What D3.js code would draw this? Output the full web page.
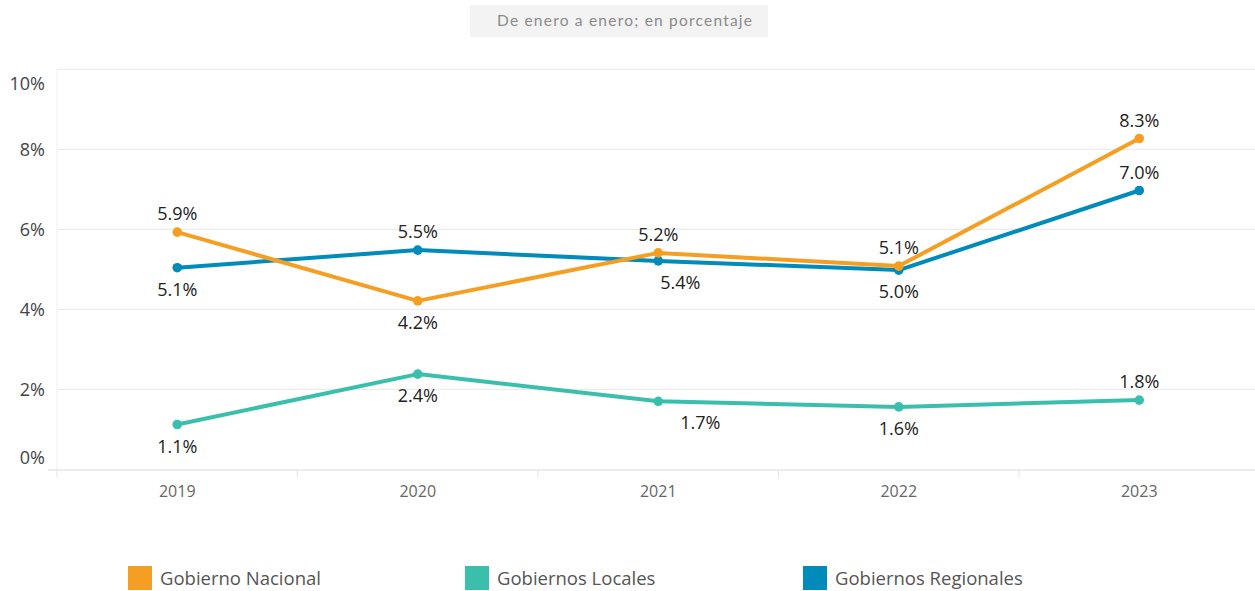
<!DOCTYPE html>
<html><head><meta charset="utf-8">
<script src="https://cdn.jsdelivr.net/npm/d3@7"></script>
<style>
html,body{margin:0;padding:0;background:#fff;}
svg{display:block;font-family:"Segoe UI","Open Sans","Noto Sans",sans-serif;}
</style></head>
<body><svg id="c" width="1255" height="591"></svg>
<script>
const years = ["2019","2020","2021","2022","2023"];
const nacional = [5.93, 4.21, 5.41, 5.08, 8.27];
const locales = [1.12, 2.38, 1.70, 1.56, 1.73];
const regionales = [5.04, 5.48, 5.21, 4.98, 6.97];
const nacionalLabels = ["5.9%","4.2%","5.4%","5.1%","8.3%"];
const localesLabels = ["1.1%","2.4%","1.7%","1.6%","1.8%"];
const regionalesLabels = ["5.1%","5.5%","5.2%","5.0%","7.0%"];
const yTicks = [0,2,4,6,8,10];
const seriesNames = ["Gobierno Nacional","Gobiernos Locales","Gobiernos Regionales"];
const title = "De enero a enero; en porcentaje";

const colors = ["#F59F22","#3BBFAD","#008BBA"];
// label placement: [dy sign, dx]
const place = [
  [[-1,0],[1,0],[1,22],[-1,0],[-1,0]],
  [[1,0],[1,0],[1,42],[1,0],[-1,0]],
  [[1,0],[-1,0],[-1,0],[1,0],[-1,0]]
];

const svg = d3.select("#c");
const x = d3.scalePoint().domain(years).range([57,1259.5]).padding(0.5);
const y = d3.scaleLinear().domain([0,10]).range([469.3,69.3]);
const bw = x.step();

// title box
svg.append("rect").attr("x",470).attr("y",5).attr("width",298).attr("height",32).attr("fill","#f3f3f3");
svg.append("text").attr("x",497).attr("y",26)
  .attr("font-family","Lato, 'Open Sans', sans-serif").attr("font-size",15.5)
  .attr("textLength",255).attr("lengthAdjust","spacing")
  .attr("fill","#8a8a8a").text(title);

// gridlines
svg.append("g").selectAll("line").data(yTicks.filter(d=>d>0)).join("line")
  .attr("x1",57).attr("x2",1255).attr("y1",d=>y(d)).attr("y2",d=>y(d))
  .attr("stroke","#ececec").attr("stroke-width",1.3);
svg.append("line").attr("x1",57).attr("x2",57).attr("y1",69).attr("y2",470).attr("stroke","#f0f0f0");
svg.append("line").attr("x1",48).attr("x2",1255).attr("y1",470).attr("y2",470).attr("stroke","#e6e6e6").attr("stroke-width",1.3);
// x separators
svg.append("g").selectAll("line").data(d3.range(0,6)).join("line")
  .attr("x1",d=>57+d*bw).attr("x2",d=>57+d*bw).attr("y1",470).attr("y2",478)
  .attr("stroke","#e6e6e6");

// y labels
svg.append("g").selectAll("text").data(yTicks).join("text")
  .attr("x",45).attr("text-anchor","end")
  .attr("y",d=> d===10 ? y(d)+21 : d===0 ? y(d)-5 : y(d)+7)
  .attr("font-size",18).attr("fill","#444").text(d=>d+"%");

// x labels
svg.append("g").selectAll("text").data(years).join("text")
  .attr("x",d=>x(d)).attr("y",497).attr("text-anchor","middle")
  .attr("font-size",16).attr("fill","#666").text(d=>d);

const series = [nacional, locales, regionales];
const labels = [nacionalLabels, localesLabels, regionalesLabels];
const line = d3.line().x((d,i)=>x(years[i])).y(d=>y(d));
// draw order: locales, regionales, nacional on top
[1,2,0].forEach(si=>{
  const g = svg.append("g");
  g.append("path").attr("d",line(series[si])).attr("fill","none")
    .attr("stroke",colors[si]).attr("stroke-width",4).attr("stroke-linejoin","round");
  g.selectAll("circle").data(series[si]).join("circle")
    .attr("cx",(d,i)=>x(years[i])).attr("cy",d=>y(d)).attr("r",4.8).attr("fill",colors[si]);
});
// labels
[0,1,2].forEach(si=>{
  series[si].forEach((v,i)=>{
    let p = place[si][i];
    let py = y(v);
    let ty;
    if (si===0 && i===2) { // orange label placed below blue point (collision avoidance)
      ty = y(regionales[i]) + 28;
    } else if (si===2 && i===2) { // blue label placed above orange point
      ty = y(nacional[i]) - 12;
    } else {
      ty = p[0] < 0 ? py - 12 : py + 28;
    }
    svg.append("text").attr("x",x(years[i])+p[1]).attr("y",ty)
      .attr("text-anchor","middle").attr("font-size",18).attr("fill","#222").text(labels[si][i]);
  });
});

// legend
const lx = [128,465,803];
seriesNames.forEach((n,i)=>{
  svg.append("rect").attr("x",lx[i]).attr("y",566).attr("width",24).attr("height",24).attr("fill",colors[i]);
  svg.append("text").attr("x",lx[i]+32).attr("y",585).attr("font-size",18.5).attr("fill","#555").text(n);
});
</script></body></html>
